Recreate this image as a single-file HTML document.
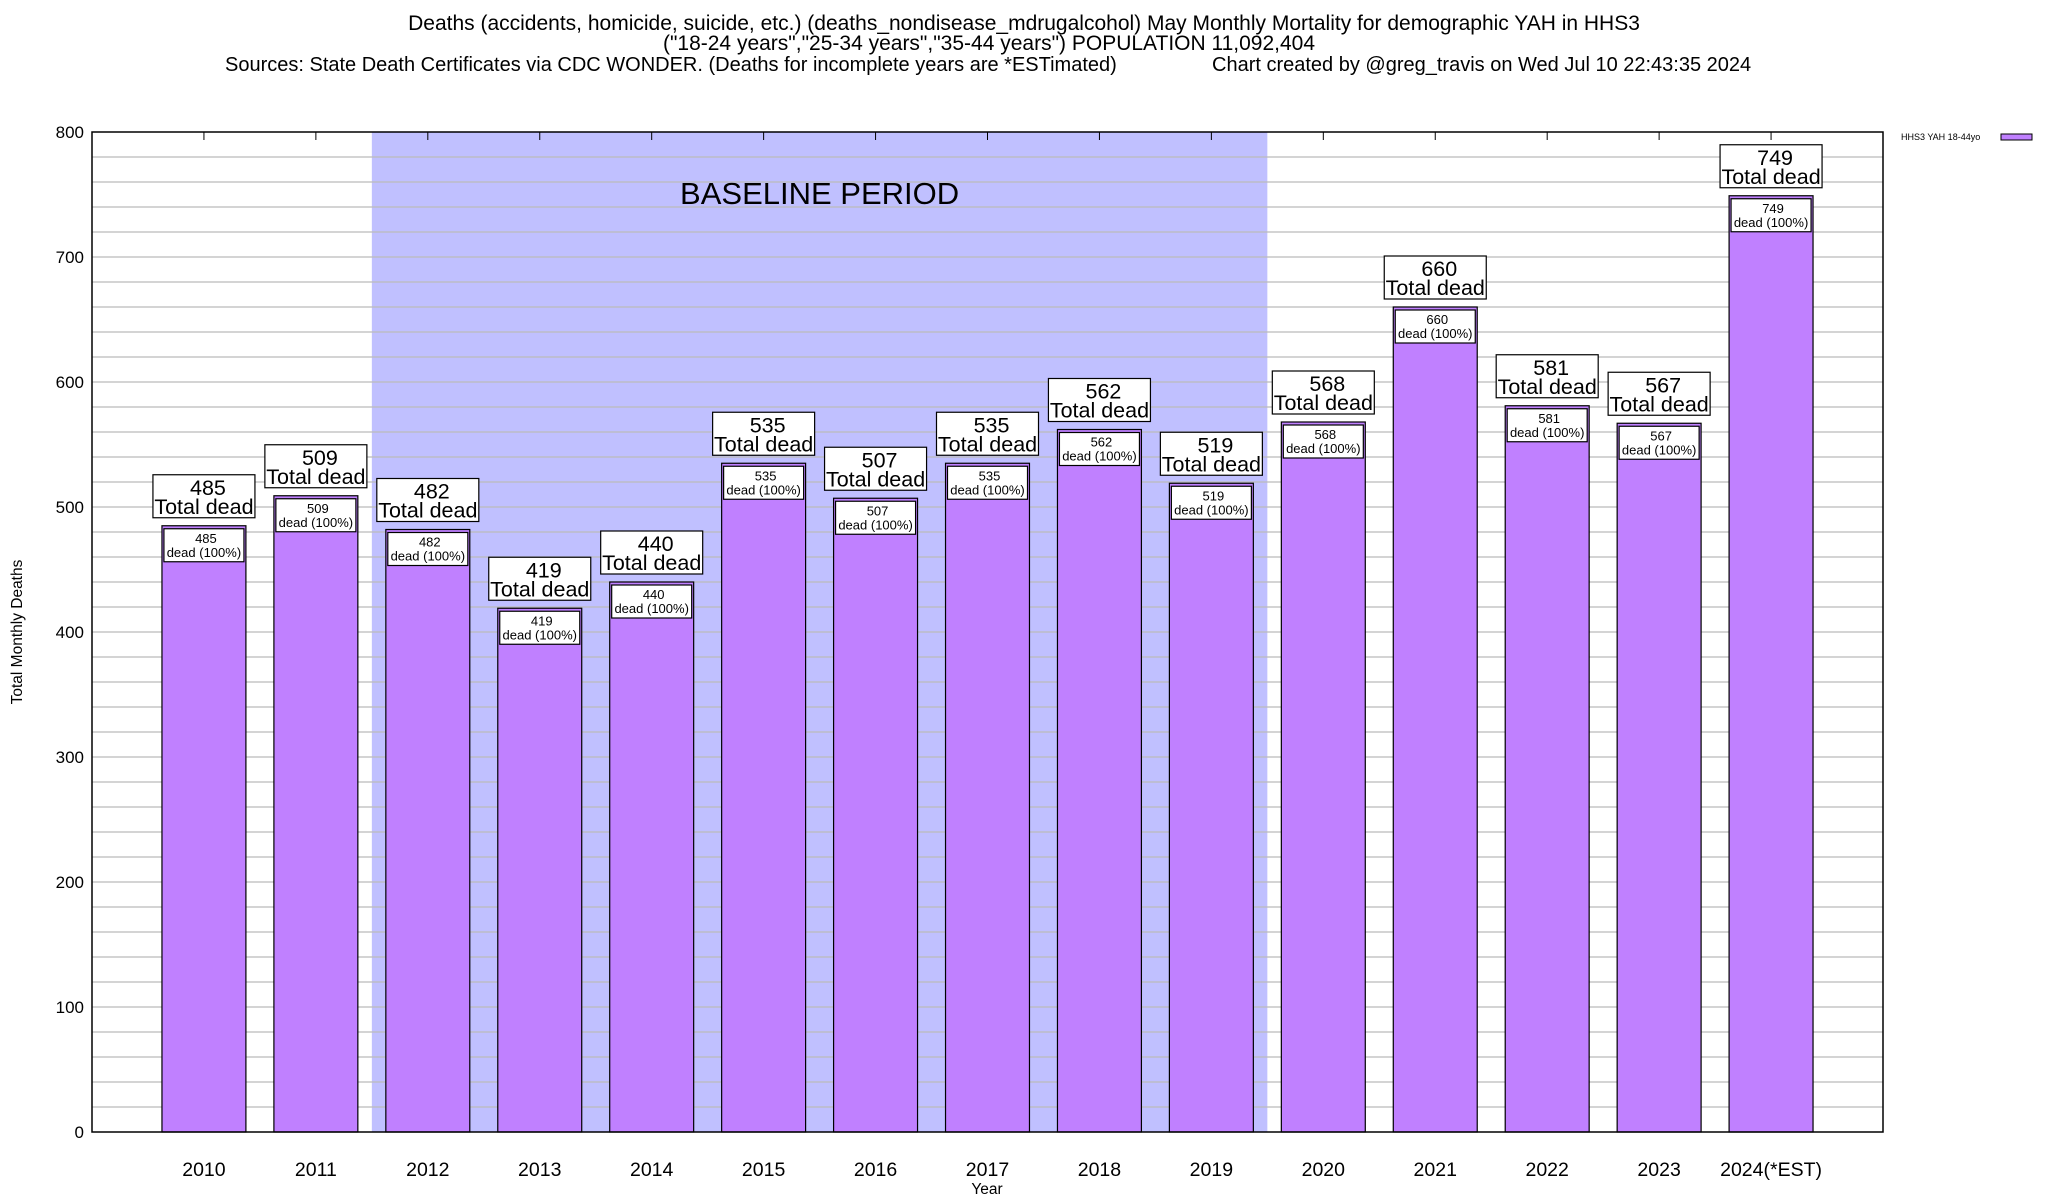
<!DOCTYPE html>
<html><head><meta charset="utf-8"><style>
html,body{margin:0;padding:0;background:#fff}
svg{display:block;font-family:"Liberation Sans",sans-serif}
</style></head><body>
<svg id="chart" width="2048" height="1200" viewBox="0 0 2048 1200" xmlns="http://www.w3.org/2000/svg">
<g font-size="21" text-anchor="middle">
<text x="1024" y="30">Deaths (accidents, homicide, suicide, etc.) (deaths_nondisease_mdrugalcohol) May Monthly Mortality for demographic YAH in HHS3</text>
<text x="989" y="50">("18-24 years","25-34 years","35-44 years") POPULATION 11,092,404</text>
<text x="225" y="71" font-size="20" text-anchor="start">Sources: State Death Certificates via CDC WONDER. (Deaths for incomplete years are *ESTimated)</text>
<text x="1212" y="71" font-size="20" text-anchor="start">Chart created by @greg_travis on Wed Jul 10 22:43:35 2024</text>
</g>
<g id="plot"></g>
<text x="0" y="0" transform="translate(22,632) rotate(-90)" text-anchor="middle" font-size="15.5">Total Monthly Deaths</text>
<text x="987" y="1194" text-anchor="middle" font-size="15.5">Year</text>
<g>
<text x="1901" y="140" font-size="9">HHS3 YAH 18-44yo</text>
<rect x="2001" y="134" width="31" height="6" fill="#c080ff" stroke="#000" stroke-width="1"/>
</g>
</svg>
<script>
const categories = ["2010","2011","2012","2013","2014","2015","2016","2017","2018","2019","2020","2021","2022","2023","2024(*EST)"];
const values = [485,509,482,419,440,535,507,535,562,519,568,660,581,567,749];
const yTicks = [0,100,200,300,400,500,600,700,800];
const baselineRange = [1.5, 9.5];

const NS = "http://www.w3.org/2000/svg";
const L = 92, R = 1883, T = 132, B = 1132;
const xs = i => L + (i + 1) * (R - L) / 16;
const ys = v => B - (v / 800) * (B - T);
const plot = document.getElementById('plot');
function mk(tag, attrs, parent, text) {
  const e = document.createElementNS(NS, tag);
  for (const k in attrs) e.setAttribute(k, attrs[k]);
  if (text !== undefined) e.textContent = text;
  (parent || plot).appendChild(e);
  return e;
}
let sh = mk('rect', {x: xs(baselineRange[0]), y: T, width: xs(baselineRange[1]) - xs(baselineRange[0]), height: B - T, fill: '#c0c0ff'});


let bt = mk('text', {x: (xs(baselineRange[0]) + xs(baselineRange[1])) / 2, y: 204, 'text-anchor': 'middle', 'font-size': 31}, plot, 'BASELINE PERIOD');


for (let v = 20; v < 800; v += 20) {
  const g = mk('line', {x1: L, x2: R, y1: ys(v), y2: ys(v), stroke: '#bbb', 'stroke-width': 1.2});
  
  
}
yTicks.forEach(v => {
  const t = mk('text', {x: 84, y: ys(v) + 6, 'text-anchor': 'end', 'font-size': 17}, plot, String(v));
  
  
});
const bw = 0.75 * (R - L) / 16;
categories.forEach((c, i) => {
  const cx = xs(i), v = values[i], top = ys(v);
  const g = mk('g', {});
  
  
  mk('line', {x1: cx, x2: cx, y1: T, y2: T + 8, stroke: '#000'}, g);
  mk('rect', {x: cx - bw / 2, y: top, width: bw, height: B - top, fill: '#c080ff', stroke: '#000', 'stroke-width': 1.2}, g);
  mk('rect', {x: cx - 40, y: top + 3, width: 80, height: 33, fill: '#fff', stroke: '#000', 'stroke-width': 1.2}, g);
  mk('text', {x: cx + 2, y: top + 17, 'text-anchor': 'middle', 'font-size': 13}, g, String(v));
  mk('text', {x: cx, y: top + 31, 'text-anchor': 'middle', 'font-size': 13}, g, 'dead (100%)');
  mk('rect', {x: cx - 51, y: top - 51, width: 102, height: 43, fill: '#fff', stroke: '#000', 'stroke-width': 1.2}, g);
  mk('text', {x: cx + 4, y: top - 31, 'text-anchor': 'middle', 'font-size': 21.5}, g, String(v));
  mk('text', {x: cx, y: top - 12, 'text-anchor': 'middle', 'font-size': 21.5}, g, 'Total dead');
  const xl = mk('text', {x: cx, y: 1176, 'text-anchor': 'middle', 'font-size': 19.5}, plot, c);
  
  
});
const fr = mk('rect', {x: L, y: T, width: R - L, height: B - T, fill: 'none', stroke: '#000', 'stroke-width': 1.5});


</script>
</body></html>
